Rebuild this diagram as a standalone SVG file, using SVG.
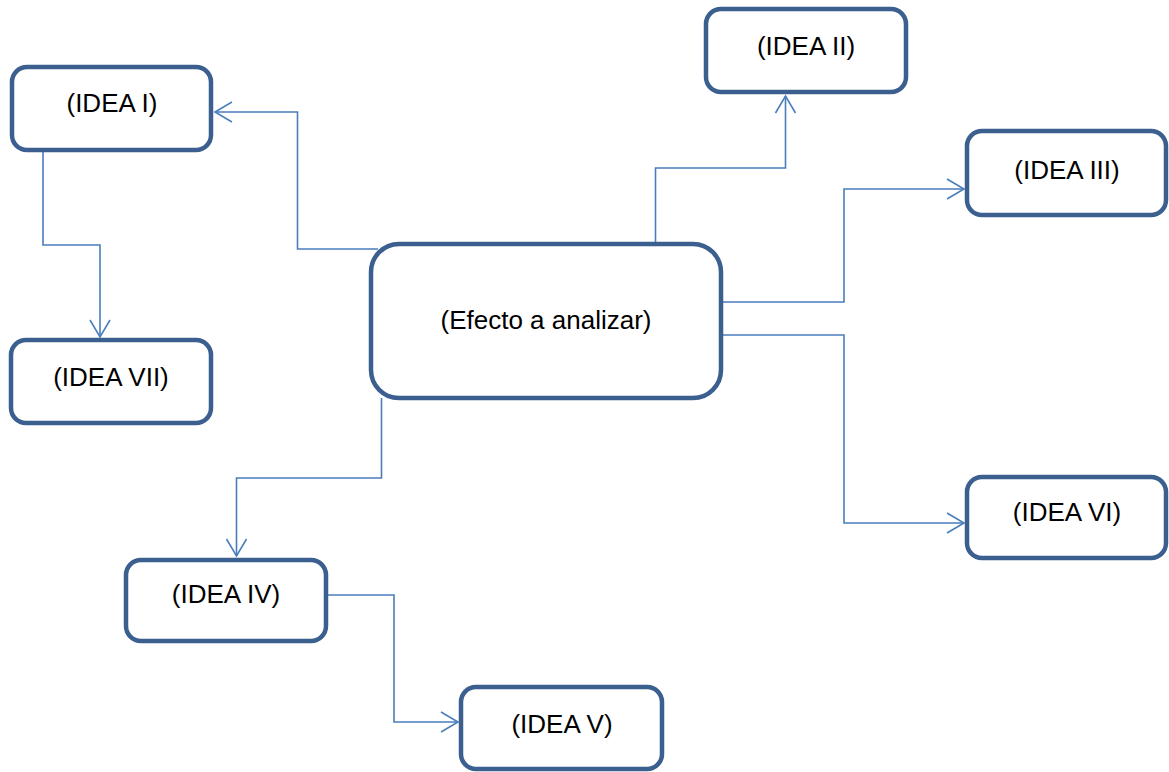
<svg xmlns="http://www.w3.org/2000/svg" width="1169" height="772" viewBox="0 0 1169 772">
<style>
.box{fill:#ffffff;stroke:#3b5f8f;stroke-width:4.5}
.lbl{font-family:"Liberation Sans",Arial,sans-serif;font-size:26px;fill:#000000;text-anchor:middle}
.con{fill:none;stroke:#4a7ebb;stroke-width:1.6;marker-end:url(#arr)}
</style>
<defs>
<marker id="arr" markerUnits="userSpaceOnUse" markerWidth="24" markerHeight="24" viewBox="-20 -12 24 24" refX="0" refY="0" orient="auto">
<path d="M-17,-10 L0,0 L-17,10" fill="none" stroke="#4a7ebb" stroke-width="1.6"/>
</marker>
</defs>
<rect width="1169" height="772" fill="#ffffff"/>
<g id="connectors">
<path class="con" d="M378,249 H297.5 V112 H215"/>
<path class="con" d="M655.5,242 V168 H785.5 V96"/>
<path class="con" d="M723,302 H844 V189 H964"/>
<path class="con" d="M723,335 H844 V523 H964"/>
<path class="con" d="M381.5,398 V478 H236.5 V556"/>
<path class="con" d="M328,595 H394 V722 H458"/>
<path class="con" d="M43,152 V245 H100 V337"/>
</g>
<g id="center">
<rect class="box" x="371" y="244" width="350" height="154" rx="28" ry="28"/>
<text class="lbl" x="546" y="329">(Efecto a analizar)</text>
</g>
<g id="idea1">
<rect class="box" x="12" y="67" width="199" height="83" rx="15" ry="15"/>
<text class="lbl" x="112" y="112">(IDEA I)</text>
</g>
<g id="idea2">
<rect class="box" x="706" y="9" width="200" height="83" rx="15" ry="15"/>
<text class="lbl" x="806" y="55">(IDEA II)</text>
</g>
<g id="idea3">
<rect class="box" x="967" y="131" width="199" height="84" rx="15" ry="15"/>
<text class="lbl" x="1067" y="179">(IDEA III)</text>
</g>
<g id="idea4">
<rect class="box" x="126" y="560" width="200" height="81" rx="15" ry="15"/>
<text class="lbl" x="226" y="603">(IDEA IV)</text>
</g>
<g id="idea5">
<rect class="box" x="461" y="687" width="201" height="82" rx="15" ry="15"/>
<text class="lbl" x="562" y="733">(IDEA V)</text>
</g>
<g id="idea6">
<rect class="box" x="967" y="477" width="199" height="81" rx="15" ry="15"/>
<text class="lbl" x="1067" y="521">(IDEA VI)</text>
</g>
<g id="idea7">
<rect class="box" x="11" y="340" width="200" height="83" rx="15" ry="15"/>
<text class="lbl" x="111" y="386">(IDEA VII)</text>
</g>
</svg>
